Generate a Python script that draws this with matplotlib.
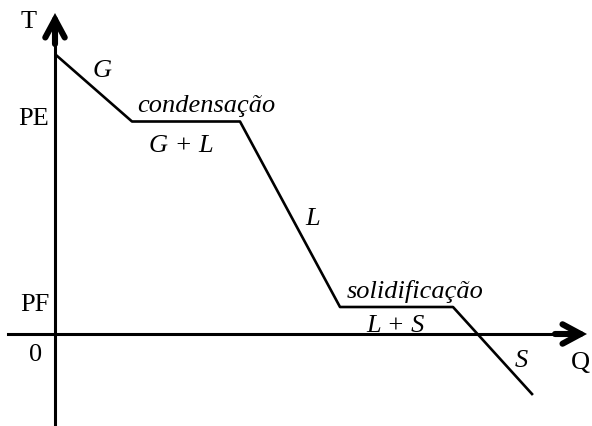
import matplotlib
matplotlib.use('Agg')
import matplotlib.pyplot as plt

# curva de resfriamento (unidades arbitrarias)
Q = [1, 77, 185, 285, 398, 477]
T = [279, 212.5, 212.5, 27, 27, -60]

# rotulos das fases: (texto, Q, T)
fases = [('G', 47, 257),
         ('condensação', 151, 222),
         ('G + L', 126, 182),
         ('L', 258, 109),
         ('solidificação', 360, 36),
         ('L + S', 341, 2),
         ('S', 466, -33)]

plt.rcParams['font.family'] = ['Liberation Serif', 'DejaVu Serif']

fig = plt.figure(figsize=(5.92, 4.26), dpi=100)
ax = fig.add_axes([0, 0, 1, 1])
ax.set_xlim(-55, 537)
ax.set_ylim(-92, 334)
ax.axis('off')

# eixos
ax.plot([0, 0], [-91, 310], color='black', lw=2.2)
ax.plot([-47, 522], [0, 0], color='black', lw=2.2)
head = dict(arrowstyle='->,head_length=1.3,head_width=0.7', lw=4.4,
            color='black', shrinkA=0, shrinkB=0, capstyle='round',
            joinstyle='miter')
ax.annotate('', xy=(0, 321), xytext=(0, 290), arrowprops=head)
ax.annotate('', xy=(532, 0), xytext=(500, 0), arrowprops=head)

ax.plot(Q, T, color='black', lw=1.9)

fs = 19
ax.text(-26, 312, 'T', fontsize=fs, ha='center', va='center')
ax.text(-6, 215, 'PE', fontsize=fs, ha='right', va='center')
ax.text(-5, 29, 'PF', fontsize=fs, ha='right', va='center')
ax.text(-19, -21, '0', fontsize=fs, ha='center', va='center')
ax.text(535.5, -29, 'Q', fontsize=fs, ha='right', va='center')

for txt, q, t in fases:
    ax.text(q, t, txt, fontsize=fs, style='italic', ha='center', va='baseline')

fig.savefig('out.png', dpi=100)
